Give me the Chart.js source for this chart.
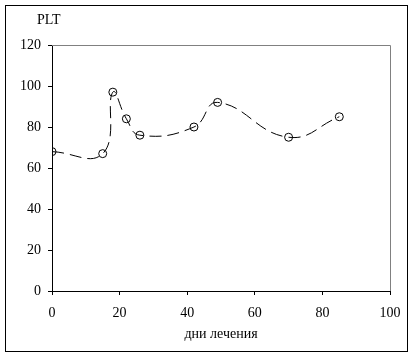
<!DOCTYPE html>
<html>
<head>
<meta charset="utf-8">
<script src="https://cdn.jsdelivr.net/npm/chart.js@4"></script>
<style>
  html, body { margin: 0; padding: 0; background: #fff; }
  #wrap { width: 414px; height: 357px; position: relative; }
</style>
</head>
<body>
<div id="wrap"><canvas id="pltChart"></canvas></div>
<script>
// data
const days = [0, 15, 18, 22, 26, 42, 49, 70, 85];
const pltValues = [68, 67, 97, 84, 76, 80, 92, 75, 85];
const yTitle = 'PLT';
const xTitle = 'дни лечения';

const FONT = '"Liberation Serif", "DejaVu Serif", serif';

// frame around the whole picture, gray top/right plot edges, "PLT" label
const framePlugin = {
    id: 'frame',
    beforeDatasetsDraw(chart) {
        const ctx = chart.ctx;
        const a = chart.chartArea;
        ctx.save();
        ctx.strokeStyle = '#808080';
        ctx.lineWidth = 1;
        ctx.beginPath();
        ctx.moveTo(a.left, a.top + 0.5);
        ctx.lineTo(a.right + 0.5, a.top + 0.5);
        ctx.lineTo(a.right + 0.5, a.bottom);
        ctx.stroke();
        ctx.restore();
    },
    afterDraw(chart) {
        const ctx = chart.ctx;
        ctx.save();
        ctx.strokeStyle = '#000';
        ctx.lineWidth = 1;
        ctx.strokeRect(5.5, 5.5, 402, 346);
        ctx.fillStyle = '#000';
        ctx.font = '14px ' + FONT;
        ctx.textAlign = 'left';
        ctx.textBaseline = 'middle';
        ctx.fillText(yTitle, 37, 20);
        ctx.restore();
    }
};

new Chart(document.getElementById('pltChart').getContext('2d'), {
    type: 'scatter',
    data: {
        datasets: [
            {
                label: yTitle,
                data: days.map((d, i) => ({ x: d, y: pltValues[i] })),
                showLine: true,
                borderColor: '#000',
                borderWidth: 1,
                borderDash: [12, 6],
                tension: 0.45,
                pointRadius: 4,
                pointHoverRadius: 4,
                pointBorderColor: '#000',
                pointBackgroundColor: 'rgba(0,0,0,0)',
                pointBorderWidth: 1,
                fill: false,
            },
        ],
    },
    options: {
        responsive: true,
        maintainAspectRatio: false,
        animation: false,
        events: [],
        layout: {
            padding: { left: 0, top: 45, right: 24, bottom: 10 },
        },
        plugins: {
            legend: { display: false },
            tooltip: { enabled: false },
        },
        scales: {
            x: {
                type: 'linear',
                min: 0,
                max: 100,
                ticks: {
                    stepSize: 20,
                    color: '#000',
                    padding: 10,
                    font: { family: FONT, size: 14 },
                },
                grid: {
                    drawOnChartArea: false,
                    drawTicks: true,
                    tickLength: 4,
                    color: '#000',
                },
                border: { color: '#000', width: 1 },
                title: {
                    display: true,
                    text: xTitle,
                    color: '#000',
                    font: { family: FONT, size: 14 },
                    padding: { top: 6, bottom: 4 },
                },
                afterFit(scale) { scale.height = 56; },
            },
            y: {
                min: 0,
                max: 120,
                ticks: {
                    stepSize: 20,
                    color: '#000',
                    padding: 7,
                    font: { family: FONT, size: 14 },
                },
                grid: {
                    drawOnChartArea: false,
                    drawTicks: true,
                    tickLength: 4,
                    color: '#000',
                },
                border: { color: '#000', width: 1 },
                afterFit(scale) { scale.width = 52; },
            },
        },
    },
    plugins: [framePlugin],
});
</script>
</body>
</html>
